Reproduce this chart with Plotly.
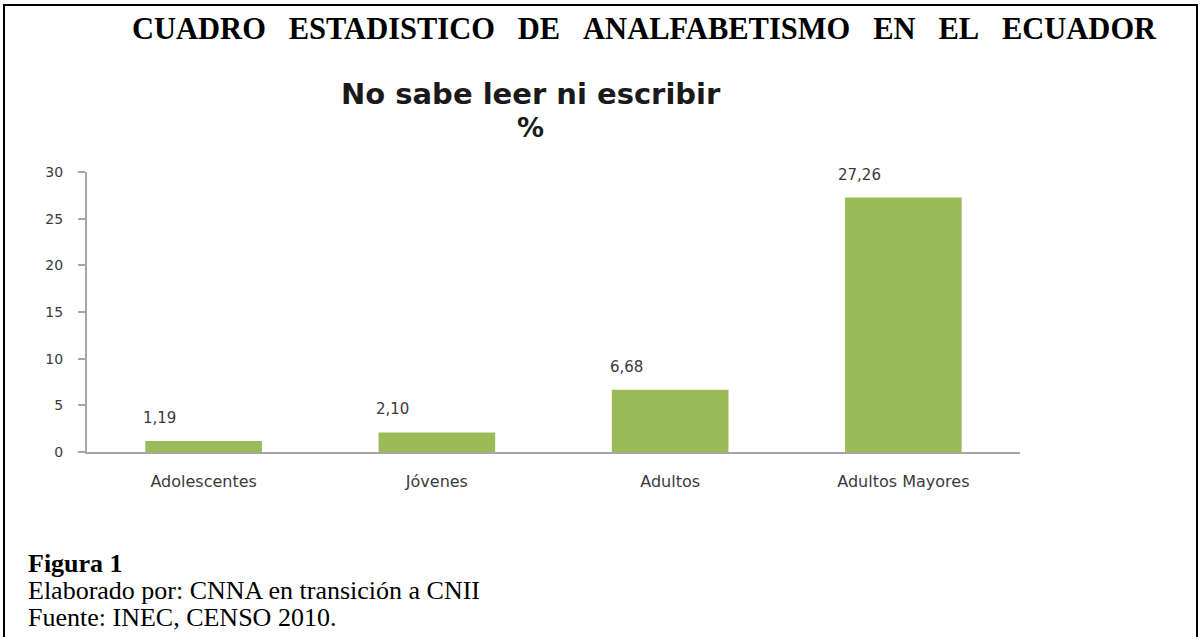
import plotly.graph_objects as go

# data
categories = ["Adolescentes", "Jóvenes", "Adultos", "Adultos Mayores"]
porcentaje = [1.19, 2.10, 6.68, 27.26]
y_ticks = [0, 5, 10, 15, 20, 25, 30]

labels = [f"{v:.2f}".replace(".", ",") for v in porcentaje]

bar = go.Bar(
    x=categories,
    y=porcentaje,
    marker=dict(color="#9BBB59", line=dict(width=0)),
    hoverinfo="x+y",
)

fig = go.Figure(data=[bar])

# value labels above the bars (sitting a bit left, like the original)
for c, v, t in zip(categories, porcentaje, labels):
    fig.add_annotation(
        x=c, y=v, text=t, showarrow=False,
        xshift=-44, yshift=23, yanchor="middle",
        font=dict(family="DejaVu Sans", size=15, color="#3a3a3a"),
    )

W, H = 1200, 637
L, R, T, B = 87, 180, 172, 185
pw, ph = W - L - R, H - T - B


def px(x):
    return (x - L) / pw


def py(y):
    return (H - B - y) / ph


# outer frame
fig.add_shape(type="rect", xref="paper", yref="paper",
              x0=px(4), x1=px(1197), y0=py(645), y1=py(5),
              line=dict(color="black", width=2), layer="below")

nb = "\u00a0" * 3
fig.add_annotation(
    xref="paper", yref="paper", x=px(644), y=py(29), yanchor="middle",
    text="<b>" + nb.join("CUADRO ESTADISTICO DE ANALFABETISMO EN EL ECUADOR".split()) + "</b>",
    showarrow=False,
    font=dict(family="Liberation Serif", size=30.5, color="black"),
)
fig.add_annotation(
    xref="paper", yref="paper", x=px(531), y=py(94), yanchor="middle",
    text="<b>No sabe leer ni escribir</b>", showarrow=False,
    font=dict(family="DejaVu Sans", size=29, color="#1a1a1a"),
)
fig.add_annotation(
    xref="paper", yref="paper", x=px(530), y=py(128), yanchor="middle",
    text="<b>%</b>", showarrow=False,
    font=dict(family="DejaVu Sans", size=27, color="#1a1a1a"),
)

footer = [
    ("<b>Figura 1</b>", 563),
    ("Elaborado por: CNNA en transición a CNII", 590),
    ("Fuente: INEC, CENSO 2010.", 617),
]
for t, yy in footer:
    fig.add_annotation(
        xref="paper", yref="paper", x=px(26), y=py(yy),
        xanchor="left", yanchor="middle", text=t, showarrow=False,
        font=dict(family="Liberation Serif", size=26, color="black"),
    )

fig.update_layout(
    width=W, height=H,
    margin=dict(l=L, r=R, t=T, b=B),
    paper_bgcolor="white", plot_bgcolor="white",
    showlegend=False,
    bargap=0.5,
    xaxis=dict(
        showline=True, linecolor="#A6A6A6", linewidth=2,
        ticks="", showgrid=False, zeroline=False,
        tickfont=dict(family="DejaVu Sans", size=16, color="#3a3a3a"),
        ticklabelstandoff=14,
    ),
    yaxis=dict(
        range=[0, 30], tickvals=y_ticks,
        showline=True, linecolor="#A6A6A6", linewidth=2,
        ticks="outside", ticklen=7, tickcolor="#A6A6A6", tickwidth=2,
        showgrid=False, zeroline=False,
        tickfont=dict(family="DejaVu Sans", size=14, color="#3a3a3a"),
        ticklabelstandoff=12,
    ),
)

fig.write_html("out.html", config={"displayModeBar": False},
               post_script="document.body.style.margin='0';")
